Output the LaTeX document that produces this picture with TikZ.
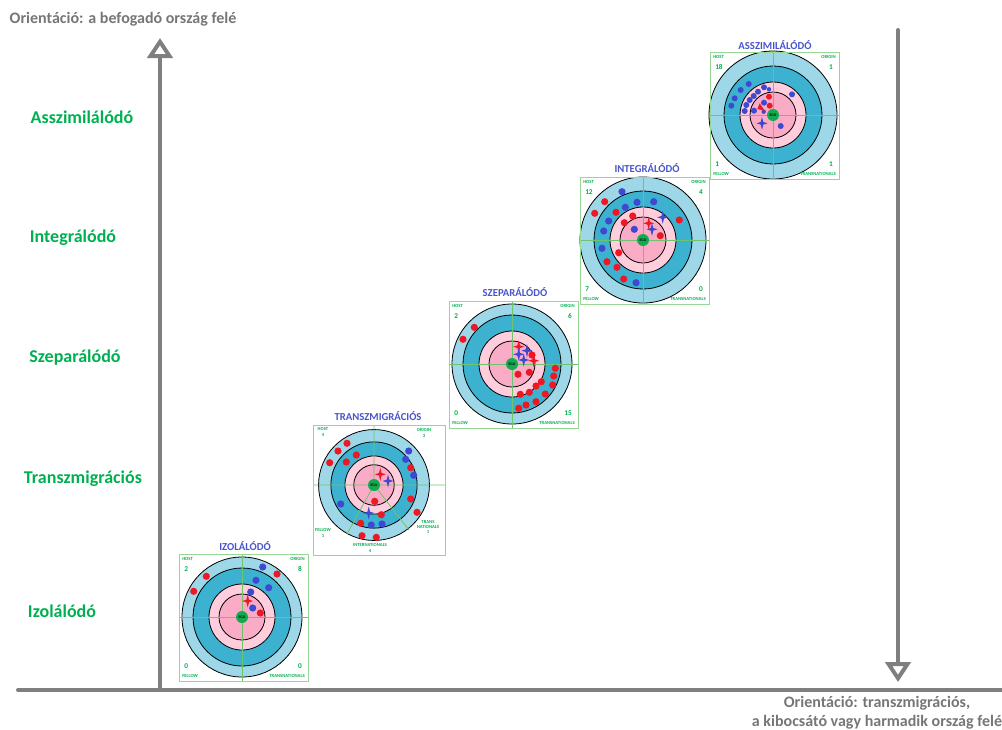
\documentclass[tikz,border=0pt]{standalone}
\usepackage{fontspec}
\setmainfont{Carlito}
\usepackage{tkz-euclide}
\usetikzlibrary{arrows.meta}
\definecolor{axisgray}{RGB}{127,127,127}
\definecolor{txtgray}{RGB}{118,118,118}
\definecolor{labgreen}{RGB}{0,176,80}
\definecolor{ttlblue}{RGB}{72,84,204}
\definecolor{ringA}{RGB}{158,216,232}
\definecolor{ringB}{RGB}{60,178,208}
\definecolor{ringC}{RGB}{255,205,219}
\definecolor{ringD}{RGB}{250,172,198}
\definecolor{egogreen}{RGB}{20,170,80}
\definecolor{gridgreen}{RGB}{110,195,110}
\definecolor{framegreen}{RGB}{150,215,150}
\definecolor{dotred}{RGB}{238,24,36}
\definecolor{dotblue}{RGB}{62,72,208}
\begin{document}
\begin{tikzpicture}[x=.75pt,y=-.75pt,
  axis/.style={line width=3pt,draw=axisgray},
  axhead/.style={-{Triangle[open,length=15pt,width=19pt]}},
  sidelab/.style={font=\bfseries\fontsize{13.5}{15}\selectfont,text=labgreen},
  ttl/.style={font=\bfseries\fontsize{8}{9}\selectfont,text=ttlblue},
  ori/.style={font=\bfseries\fontsize{12}{14.2}\selectfont,text=txtgray,align=center},
  tag/.style={font=\bfseries\fontsize{3.5}{4}\selectfont,text=labgreen,inner sep=0pt,align=center},
  cnt/.style={font=\bfseries\fontsize{5.5}{5.5}\selectfont,text=labgreen,inner sep=0pt},
  xhair/.style={draw=gridgreen,line width=.6pt},
  frm/.style={draw=framegreen,line width=.7pt},
  ring/.style={draw=black,line width=.6pt},
  rd/.style={fill=dotred},
  bd/.style={fill=dotblue},
  pics/rings/.style={code={
    \filldraw[ring,fill=ringA] (0,0) circle (#1);
    \filldraw[ring,fill=ringB] (0,0) circle (49);
    \filldraw[ring,fill=ringC] (0,0) circle (33);
    \filldraw[ring,fill=ringD] (0,0) circle (23);}},
  pics/board/.style n args={4}{code={
    \draw[xhair] (-63,0) -- (66,0) (0,-63) -- (0,64);
    \draw[frm] (-63,-63) rectangle (66,64);
    \node[tag,anchor=north west] (-host) at (-60,-60) {HOST};
    \node[cnt,anchor=north west] (-h) at (-58,-51) {#1};
    \node[tag,anchor=north east] (-origin) at (63,-60) {ORIGIN};
    \node[cnt,anchor=north east] (-o) at (60,-51) {#2};
    \node[tag,anchor=south west] (-fellow) at (-60,61) {FELLOW};
    \node[cnt,anchor=south west] (-f) at (-58,52) {#3};
    \node[tag,anchor=south east] (-trans) at (63,61) {TRANSNATIONALS};
    \node[cnt,anchor=south east] (-t) at (60,52) {#4};}},
  pics/plus/.style={code={
    \fill (-5.5,0) -- (-1.3,-1.3) -- (0,-6.5) -- (1.3,-1.3) -- (5.5,0) -- (1.3,1.3) -- (0,6.5) -- (-1.3,1.3) -- cycle;}},
  pics/ego/.style={code={
    \node[circle,fill=egogreen,minimum size=9pt,inner sep=0pt,font=\bfseries\fontsize{2.8}{3}\selectfont] (-core) {EGO};}}]
  \useasboundingbox (0,0) rectangle (1002,729);
  \tkzDefPoints{18/690/O,1002/690/E,160/690/P,160/38/Q,898/30/R,898/682/S}
  \tkzDrawSegments[axis](O,E)
  \tkzDrawSegments[axis,axhead](P,Q R,S)
  \node[ori,anchor=west] (oHost) at (5,19) {Orientáció: a befogadó ország felé};
  \node[ori] (oAway) at (877,713) {Orientáció: transzmigrációs,\\a kibocsátó vagy harmadik ország felé};
  \node[sidelab] (lAssz) at (82,117) {Asszimilálódó};
  \node[sidelab] (lInt) at (73,238) {Integrálódó};
  \node[sidelab] (lSzep) at (75,358) {Szeparálódó};
  \node[sidelab] (lTrans) at (83,479) {Transzmigrációs};
  \node[sidelab] (lIzol) at (62,611) {Izolálódó};
  \begin{scope}[shift={(242,617)}]
    \pic {rings=60};
    \pic (zB) {board={2}{8}{0}{0}};
    \foreach \x/\y in {35/-43,-35.7/-40.7,-48.3/-25.7,18.3/-4} \fill[rd] (\x,\y) circle (3.6);
    \foreach \x/\y in {20.7/-50,14/-36.7,26.7/-29.3,8.7/-25,10.7/-9} \fill[bd] (\x,\y) circle (3.6);
    \pic[dotred] at (5.7,-16) {plus};
    \pic (zE) {ego};
    \node[ttl] (zT) at (3,-71) {IZOLÁLÓDÓ};
  \end{scope}
  \begin{scope}[shift={(374,485)}]
    \pic[scale=.88] {rings=63};
    \draw[xhair] (-61,0) -- (71,0) (0,-60) -- (0,0) (-27,49) -- (0,0) -- (35,45);
    \draw[frm] (-61,-60) rectangle (71,70);
    \foreach \x/\y in {-27/-41.7,-36/-34,-17.7/-30,-44.3/-22.3,-27.7/-23,36.7/-17.3,0.7/16.3,36.7/14,43/27.3,7.3/29.7,-13.3/38.3,-12/50.7,2.3/52.3} \fill[rd] (\x,\y) circle (3.6);
    \foreach \x/\y in {34.7/-34,31.7/-25.7,39.7/-9.7,-33.3/19,-2.7/40,8/39} \fill[bd] (\x,\y) circle (3.6);
    \pic[dotred] at (6.3,-10.7) {plus};
    \pic[dotblue] at (14,-4) {plus};
    \pic[dotblue] at (-5.3,28) {plus};
    \pic (tE) {ego};
    \node[tag] (tHost) at (-51,-53) {HOST\\4};
    \node[tag] (tOrig) at (50,-52) {ORIGIN\\3};
    \node[tag] (tFell) at (-51,48) {FELLOW\\1};
    \node[tag] (tTrans) at (54,42) {TRANS\\NATIONALS\\1};
    \node[tag] (tInter) at (-4,63) {INTERNATIONALS\\4};
    \node[ttl] (tT) at (4,-69) {TRANSZMIGRÁCIÓS};
  \end{scope}
  \begin{scope}[shift={(512,364)}]
    \pic {rings=60};
    \pic (sB) {board={2}{6}{0}{15}};
    \foreach \x/\y in {-37.7/-36.7,-49/-24.7,20/-9,6/10.3,17.3/8.3,43.3/4.3,41.7/12,29.3/17.7,24/22,40.7/21,8.3/30.3,17.3/28.3,33.3/30,24/37.7,14/41,6.7/44.3} \fill[rd] (\x,\y) circle (3.6);
    \pic[dotred] at (6.7,-17.3) {plus};
    \pic[dotred] at (21.7,-3.3) {plus};
    \pic[dotblue] at (15,-13.3) {plus};
    \pic[dotblue] at (6.7,-9.7) {plus};
    \pic[dotblue] at (11.7,-4) {plus};
    \pic (sE) {ego};
    \node[ttl] (sT) at (3,-72) {SZEPARÁLÓDÓ};
  \end{scope}
  \begin{scope}[shift={(643,240)}]
    \pic {rings=63};
    \pic (iB) {board={12}{4}{7}{0}};
    \foreach \x/\y in {-38.3/-38.3,-27/-27.7,-48.3/-26.7,-10.3/-24,36.3/-20,-18.7/-17.3,17.3/-4.3,-24.3/12.7,-36/21.7,-26/27.3,-19.3/39} \fill[rd] (\x,\y) circle (3.6);
    \foreach \x/\y in {-21/-48.3,-6/-37.7,10.7/-38.3,-17.7/-32.7,-34.3/-19,-39.3/-9,-8.7/-10.7,-41/8.3,-7/42.7} \fill[bd] (\x,\y) circle (3.6);
    \pic[dotred] at (5.7,-16.7) {plus};
    \pic[dotblue] at (19.7,-22.7) {plus};
    \pic[dotblue] at (9,-10.7) {plus};
    \pic (iE) {ego};
    \node[ttl] (iT) at (4,-72) {INTEGRÁLÓDÓ};
  \end{scope}
  \begin{scope}[shift={(773,115)}]
    \pic {rings=64};
    \pic (aB) {board={18}{1}{1}{1}};
    \foreach \x/\y in {-24.3/-31,-32.3/-25,-9/-27.7,-15/-23.3,-19.3/-19,19/-20.7,-38.3/-16.7,-23.3/-15,-26.7/-10,-41.7/-9.3,-9/-12.3,-19/-4.3,-28.3/-4,7.7/11} \fill[bd] (\x,\y) circle (3);
    \foreach \x/\y in {-4/-25.7,-9.3/-3.3} \fill[bd] (\x,\y) circle (2.2);
    \foreach \x/\y in {-4/-18.3,-3.3/-9.3} \fill[rd] (\x,\y) circle (3);
    \fill[rd] (-13.3,-11.7) -- (-15.7,-6) -- (-8.3,-4.3) -- cycle;
    \pic[dotblue] at (-11,8.3) {plus};
    \pic (aE) {ego};
    \node[ttl] (aT) at (2,-70) {ASSZIMILÁLÓDÓ};
  \end{scope}
\end{tikzpicture}
\end{document}
